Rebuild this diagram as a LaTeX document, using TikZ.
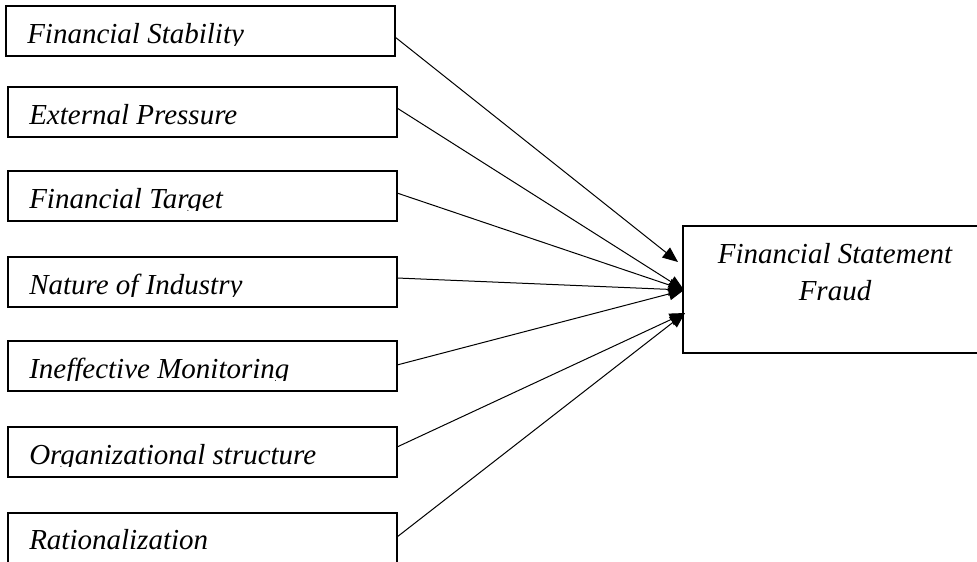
\documentclass[tikz,border=0pt]{standalone}
\usepackage{fontspec}
\setmainfont{Liberation Serif}
\usetikzlibrary{arrows.meta}
\begin{document}
\begin{tikzpicture}[x=0.75pt,y=-0.75pt,
  box/.style={draw, line width=0.8pt, inner sep=0pt, outer sep=0pt, anchor=north west,
              minimum width=291.75pt, minimum height=37.5pt},
  lbl/.style={inner sep=0pt, anchor=base west, font=\fontsize{21.75}{26}\selectfont\itshape},
  arr/.style={line width=0.75pt, -{Triangle[length=11.5pt,width=9.5pt]}}]
\useasboundingbox (0,0) rectangle (977,561);
\fill[white] (0,0) rectangle (977,561);
% left boxes
\node[box] (b1) at (6,6) {};
\node[box] (b2) at (8,87) {};
\node[box] (b3) at (8,171) {};
\node[box] (b4) at (8,257) {};
\node[box] (b5) at (8,341) {};
\node[box] (b6) at (8,427) {};
\node[box] (b7) at (8,513) {};
% clipped labels
\begin{scope}\clip (6,6) rectangle (395,45);
\node[lbl] (t1) at (27,43) {Financial Stability};\end{scope}
\begin{scope}\clip (8,87) rectangle (397,126);
\node[lbl] (t2) at (29,124) {External Pressure};\end{scope}
\begin{scope}\clip (8,171) rectangle (397,210);
\node[lbl] (t3) at (29,208) {Financial Target};\end{scope}
\begin{scope}\clip (8,257) rectangle (397,296);
\node[lbl] (t4) at (29,294) {Nature of Industry};\end{scope}
\begin{scope}\clip (8,341) rectangle (397,380);
\node[lbl] (t5) at (29,378) {Ineffective Monitoring};\end{scope}
\begin{scope}\clip (8,427) rectangle (397,466);
\node[lbl] (t6) at (29,464) {Organizational structure};\end{scope}
\begin{scope}\clip (8,513) rectangle (397,552);
\node[lbl] (t7) at (29,549) {Rationalization};\end{scope}
% right box
\node[draw, line width=0.8pt, inner sep=0pt, outer sep=0pt, anchor=north west,
      minimum width=228pt, minimum height=95.25pt] (fr) at (683,226) {};
\node[inner sep=0pt, anchor=base, align=center,
      font=\fontsize{21.75}{27.75}\selectfont\itshape] (ft) at (835,300)
      {Financial Statement\\Fraud};
% arrow end points
\coordinate (e1) at (678,262);
\coordinate (e2) at (684,290);
\coordinate (e3) at (685,313);
% arrows
\draw[arr] (b1.east |- {(0,37)}) -- (e1);
\draw[arr] (b2.east |- {(0,108)}) -- (e2);
\draw[arr] (b3.east |- {(0,193)}) -- (e2);
\draw[arr] (b4.east |- {(0,278)}) -- (e2);
\draw[arr] (b5.east |- {(0,365)}) -- (e2);
\draw[arr] (b6.east |- {(0,447)}) -- (e3);
\draw[arr] (b7.east |- {(0,537)}) -- (e3);
\end{tikzpicture}
\end{document}
